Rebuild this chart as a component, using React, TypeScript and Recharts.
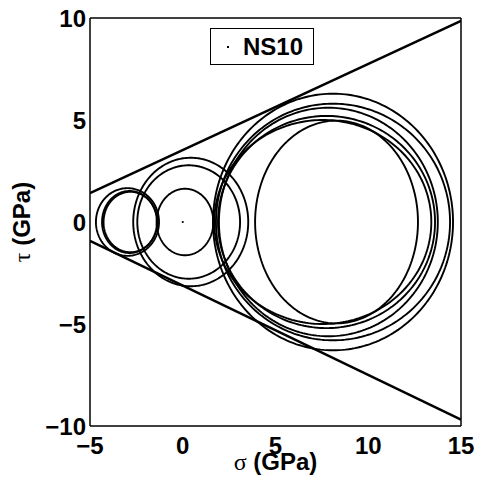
import { ComposedChart, Line, Scatter, XAxis, YAxis, Legend } from 'recharts';

const sigmaTicks = [-5, 0, 5, 10, 15];
const tauTicks = [-10, -5, 0, 5, 10];

// Mohr loops: centre on the sigma axis, half-width along sigma, half-height along tau (GPa)
const loopCenters = [-2.98, -2.87, -2.82, 0.12, 0.32, 0.43, 8.1, 8.1, 7.85, 7.75, 7.55, 8.29];
const loopHalfWidths = [1.7, 1.48, 1.45, 1.53, 2.77, 3.1, 6.47, 6.31, 5.9, 5.85, 5.85, 4.39];
const loopHalfHeights = [1.66, 1.52, 1.48, 1.63, 2.78, 3.15, 6.29, 5.8, 5.6, 5.2, 5.0, 4.97];

// failure envelope end points
const envelopeSigma = [-5, 15];
const upperEnvelopeTau = [1.42, 9.86];
const lowerEnvelopeTau = [-0.93, -9.69];

const stressPoint = [{ sigma: 0, tau: 0 }];

const SANS = '"Liberation Sans", Arial, Helvetica, sans-serif';
const SERIF = '"Liberation Serif", "DejaVu Serif", serif';

const loops = loopCenters.map((c, i) =>
  Array.from({ length: 241 }, (_, k) => {
    const a = (k / 240) * 2 * Math.PI;
    return { sigma: c + loopHalfWidths[i] * Math.cos(a), tau: loopHalfHeights[i] * Math.sin(a) };
  })
);

const upperEnvelope = envelopeSigma.map((s, i) => ({ sigma: s, tau: upperEnvelopeTau[i] }));
const lowerEnvelope = envelopeSigma.map((s, i) => ({ sigma: s, tau: lowerEnvelopeTau[i] }));

const tickStyle = { fill: '#000', fontSize: 24, fontWeight: 'bold', fontFamily: SANS };
const frame = { stroke: '#000', strokeWidth: 1.5 };
const minusSign = (v: number) => (v < 0 ? `−${-v}` : `${v}`);

const SigmaLabel = ({ viewBox }: any) => {
  const { x, width } = viewBox;
  return (
    <text x={x + width / 2} y={470} textAnchor="middle" fontSize={24} fill="#000">
      <tspan fontFamily={SERIF} fill="#000">σ</tspan>
      <tspan fontFamily={SANS} fontWeight="bold" fill="#000"> (GPa)</tspan>
    </text>
  );
};

const TauLabel = ({ viewBox }: any) => {
  const { y, height } = viewBox;
  const cx = 30;
  const cy = y + height / 2;
  return (
    <text x={cx} y={cy} textAnchor="middle" fontSize={24} fill="#000" transform={`rotate(-90, ${cx}, ${cy})`}>
      <tspan fontFamily={SERIF} fill="#000">τ</tspan>
      <tspan fontFamily={SANS} fontWeight="bold" fill="#000"> (GPa)</tspan>
    </text>
  );
};

const LegendBox = () => (
  <div
    style={{
      width: 104,
      height: 37,
      boxSizing: 'border-box',
      border: '1.5px solid #000',
      background: '#fff',
      position: 'relative',
      fontFamily: SANS,
      fontWeight: 'bold',
      fontSize: 24,
      color: '#000',
    }}
  >
    <span style={{ position: 'absolute', left: 16, top: 17, width: 2, height: 2, background: '#000' }} />
    <span style={{ position: 'absolute', left: 32, top: 4, lineHeight: '27px' }}>NS10</span>
  </div>
);

const StressDot = (props: any) => <circle cx={props.cx} cy={props.cy} r={1.1} fill="#000" />;

export default function App() {
  return (
    <div style={{ position: 'absolute', left: 0, top: 0, background: '#fff' }}>
      <ComposedChart width={478} height={489} margin={{ top: 18, right: 17, bottom: 23, left: 10 }}>
        <XAxis
          xAxisId="b"
          type="number"
          dataKey="sigma"
          domain={[-5, 15]}
          ticks={sigmaTicks}
          allowDataOverflow
          tickLine={false}
          axisLine={frame}
          tick={tickStyle}
          tickFormatter={minusSign}
          tickSize={6}
          tickMargin={5}
          height={40}
          label={<SigmaLabel />}
        />
        <XAxis xAxisId="bm" type="number" dataKey="sigma" domain={[-5, 15]} ticks={sigmaTicks} mirror tick={false} axisLine={false} tickLine={{ stroke: '#000' }} tickSize={4} height={1} />
        <XAxis xAxisId="t" orientation="top" type="number" dataKey="sigma" domain={[-5, 15]} ticks={sigmaTicks} mirror tick={false} axisLine={frame} tickLine={{ stroke: '#000' }} tickSize={4} height={1} />
        <YAxis
          yAxisId="l"
          type="number"
          dataKey="tau"
          domain={[-10, 10]}
          ticks={tauTicks}
          allowDataOverflow
          tickLine={false}
          axisLine={frame}
          tick={tickStyle}
          tickFormatter={minusSign}
          tickSize={3}
          tickMargin={1}
          width={80}
          label={<TauLabel />}
        />
        <YAxis yAxisId="lm" type="number" dataKey="tau" domain={[-10, 10]} ticks={tauTicks} mirror tick={false} axisLine={false} tickLine={{ stroke: '#000' }} tickSize={4} width={1} />
        <YAxis yAxisId="r" orientation="right" type="number" dataKey="tau" domain={[-10, 10]} ticks={tauTicks} mirror tick={false} axisLine={frame} tickLine={{ stroke: '#000' }} tickSize={4} width={1} />

        <Scatter xAxisId="b" yAxisId="l" name="NS10" data={stressPoint} dataKey="tau" shape={<StressDot />} isAnimationActive={false} />

        {loops.map((pts, i) => (
          <Line
            key={i}
            xAxisId="b"
            yAxisId="l"
            data={pts}
            dataKey="tau"
            type="linear"
            stroke="#000"
            strokeWidth={1.9}
            dot={false}
            activeDot={false}
            legendType="none"
            isAnimationActive={false}
          />
        ))}
        <Line xAxisId="b" yAxisId="l" data={upperEnvelope} dataKey="tau" type="linear" stroke="#000" strokeWidth={2.5} dot={false} legendType="none" isAnimationActive={false} />
        <Line xAxisId="b" yAxisId="l" data={lowerEnvelope} dataKey="tau" type="linear" stroke="#000" strokeWidth={2.5} dot={false} legendType="none" isAnimationActive={false} />

        <Legend
          layout="horizontal"
          verticalAlign="middle"
          align="center"
          content={<LegendBox />}
          wrapperStyle={{ left: 210, top: 28, width: 104, height: 37 }}
        />
      </ComposedChart>
    </div>
  );
}
